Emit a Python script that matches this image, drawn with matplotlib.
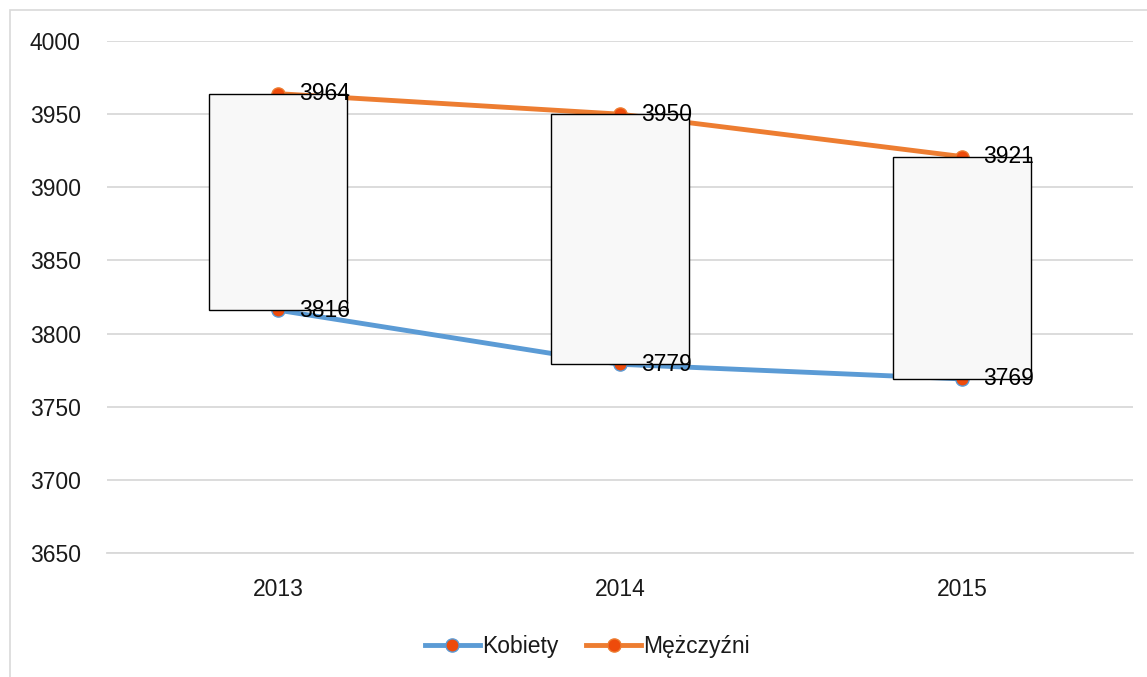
import matplotlib
matplotlib.use("Agg")
import matplotlib.pyplot as plt
from matplotlib.patches import Rectangle

years = ["2013", "2014", "2015"]
kobiety = [3816, 3779, 3769]
mezczyzni = [3964, 3950, 3921]
y_ticks = [3650, 3700, 3750, 3800, 3850, 3900, 3950, 4000]

plt.rcParams['font.family'] = ['Liberation Sans', 'DejaVu Sans']

W, H = 1147, 677
fig = plt.figure(figsize=(W / 100, H / 100), dpi=100)

# outer chart border
fig.patches.append(Rectangle((10 / W, -0.05), 1.2, 1 - 10 / H + 0.05,
                             transform=fig.transFigure, fill=False,
                             edgecolor='#D9D9D9', linewidth=1.2))

ax = fig.add_axes([107 / W, 1 - 553 / H, (1133 - 107) / W, (553 - 41) / H])
x = list(range(len(years)))

ax.set_ylim(3650, 4000)
ax.set_xlim(-0.5, len(years) - 0.5)
ax.set_yticks(y_ticks)
ax.set_xticks(x)
ax.set_xticklabels(years)
ax.yaxis.grid(True, color='#D9D9D9', linewidth=1.3)
ax.set_axisbelow(True)
for s in ['top', 'right', 'left']:
    ax.spines[s].set_visible(False)
ax.spines['bottom'].set_color('#D9D9D9')
ax.spines['bottom'].set_linewidth(1.3)
txt_col = '#1A1A1A'
ax.tick_params(axis='both', length=0, labelsize=16.5, labelcolor=txt_col)
ax.tick_params(axis='y', pad=19)
ax.tick_params(axis='x', pad=18)

marker_fill = '#EE4B0B'
l1, = ax.plot(x, kobiety, color='#5B9BD5', linewidth=3.5, marker='o',
              markersize=9.5, markerfacecolor=marker_fill,
              markeredgecolor='#5B9BD5', markeredgewidth=1, zorder=2,
              label='Kobiety')
l2, = ax.plot(x, mezczyzni, color='#ED7D31', linewidth=3.5, marker='o',
              markersize=9.5, markerfacecolor=marker_fill,
              markeredgecolor='#ED7D31', markeredgewidth=1, zorder=2,
              label='Mężczyźni')

heights = [m - k for m, k in zip(mezczyzni, kobiety)]
ax.bar(x, heights, bottom=kobiety, width=0.405, color='#F8F8F8',
       edgecolor='black', linewidth=1, zorder=3)

for xi, v in zip(x, kobiety):
    ax.annotate(str(v), (xi, v), xytext=(15, 0), textcoords='offset points',
                ha='left', va='center', fontsize=16.5, color='black', zorder=5)
for xi, v in zip(x, mezczyzni):
    ax.annotate(str(v), (xi, v), xytext=(15, 0), textcoords='offset points',
                ha='left', va='center', fontsize=16.5, color='black', zorder=5)

fig.legend(handles=[l1, l2], loc='center',
           bbox_to_anchor=(0.5 + 14 / W, 1 - 647 / H),
           ncol=2, frameon=False, fontsize=16.5, handlelength=2.4,
           handletextpad=0.1, columnspacing=1.2, labelcolor=txt_col)

fig.savefig("out.png", dpi=100)
